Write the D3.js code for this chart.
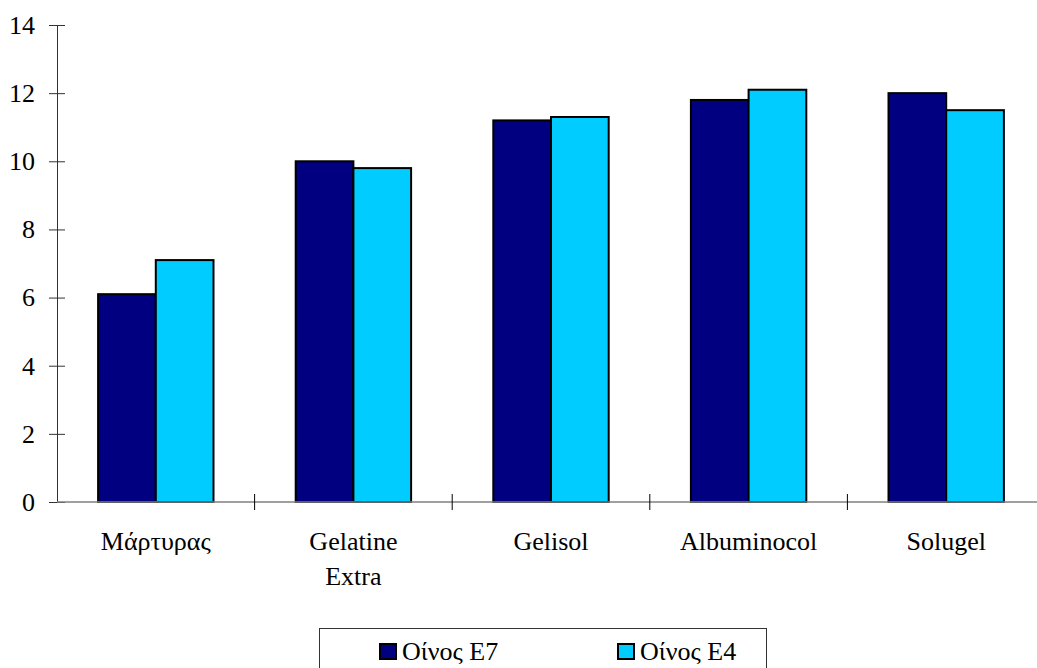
<!DOCTYPE html>
<html>
<head>
<meta charset="utf-8">
<script src="https://cdn.jsdelivr.net/npm/d3@7"></script>
</head>
<body style="margin:0">
<svg id="chart" width="1037" height="668"></svg>
<script>
const categories = [["Μάρτυρας"], ["Gelatine", "Extra"], ["Gelisol"], ["Albuminocol"], ["Solugel"]];
const seriesNames = ["Οίνος Ε7", "Οίνος Ε4"];
const seriesColors = ["#000080", "#00ccff"];
const e7Values = [6.1, 10.0, 11.2, 11.8, 12.0];
const e4Values = [7.1, 9.8, 11.3, 12.1, 11.5];
const yTicks = [0, 2, 4, 6, 8, 10, 12, 14];

const FONT = '"Liberation Serif"';
const FS = "26px";

const svg = d3.select("#chart").style("display", "block");
const keys = categories.map((c, i) => i);

const x = d3.scaleBand().domain(keys).range([57, 1045]).paddingInner(0).paddingOuter(0);
const y = d3.scaleLinear().domain([0, 14]).range([502, 25]);
const bandW = x.bandwidth();
const barW = bandW * 0.292;

const rows = keys.map(i => ({ i, values: [e7Values[i], e4Values[i]] }));

// bars
const groups = svg.append("g").selectAll("g").data(rows).join("g");
groups.selectAll("rect")
  .data(d => d.values.map((v, s) => ({ i: d.i, v, s })))
  .join("rect")
  .attr("x", d => x(d.i) + bandW / 2 - barW + d.s * barW)
  .attr("y", d => y(d.v))
  .attr("width", barW)
  .attr("height", d => y(0) - y(d.v))
  .attr("fill", d => seriesColors[d.s])
  .attr("stroke", "#000")
  .attr("stroke-width", 2);

// y axis lines from d3, labels as plain text on the svg
const yAxis = svg.append("g").attr("transform", "translate(57,0)")
  .call(d3.axisLeft(y).tickValues(yTicks).tickSizeInner(8).tickSizeOuter(0).tickFormat(""));
yAxis.select(".domain").attr("stroke", "#333");
yAxis.selectAll(".tick line").attr("x2", 8).attr("x1", -8).attr("stroke", "#333");
yTicks.forEach(v => {
  svg.append("text").attr("x", 35).attr("y", y(v)).attr("dy", "0.34em")
    .attr("text-anchor", "end").attr("fill", "#000")
    .style("font-family", FONT).style("font-size", FS).text(v);
});

// x axis
svg.append("line").attr("x1", 57).attr("x2", 1045).attr("y1", y(0)).attr("y2", y(0))
  .attr("stroke", "#808080").attr("stroke-width", 1.5);
keys.slice(1).forEach(k => {
  svg.append("line").attr("x1", x(k)).attr("x2", x(k)).attr("y1", y(0) - 8).attr("y2", y(0) + 8)
    .attr("stroke", "#000");
});
rows.forEach(d => {
  categories[d.i].forEach((line, j) => {
    svg.append("text").attr("x", x(d.i) + bandW / 2).attr("y", y(0) + 48 + j * 35)
      .attr("text-anchor", "middle").attr("fill", "#000")
      .style("font-family", FONT).style("font-size", FS).text(line);
  });
});

// legend
svg.append("rect").attr("x", 319.5).attr("y", 628.5).attr("width", 447).attr("height", 60)
  .attr("fill", "none").attr("stroke", "#333").attr("stroke-width", 1);
const lx = [379, 617];
seriesNames.forEach((name, s) => {
  svg.append("rect").attr("x", lx[s] + 1).attr("y", 644).attr("width", 16).attr("height", 15)
    .attr("fill", seriesColors[s]).attr("stroke", "#000").attr("stroke-width", 2);
  svg.append("text").attr("x", lx[s] + 23).attr("y", 660).attr("fill", "#000")
    .style("font-family", FONT).style("font-size", FS).text(name);
});
</script>
</body>
</html>
